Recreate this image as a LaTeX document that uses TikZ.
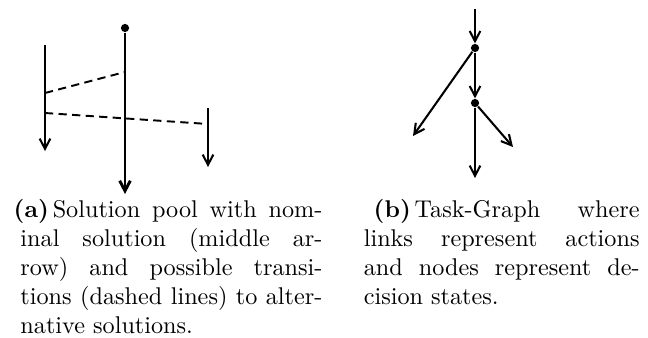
\documentclass[tikz,border=0pt]{standalone}
\usetikzlibrary{arrows.meta}
\begin{document}
\begin{tikzpicture}[x=0.413pt, y=-0.413pt,
  tip/.style={-{Straight Barb[length=4.2pt,width=4.4pt]}},
  thinline/.style={line width=0.85pt},
  thickline/.style={line width=1.2pt},
  dashline/.style={line width=0.8pt, dash pattern=on 3.4pt off 2.2pt},
  dot/.style={circle, fill=black, inner sep=0pt, minimum size=3.4pt},
  caption/.style={inner sep=0pt, anchor=base west, font=\fontsize{10}{12}\selectfont}]
\useasboundingbox (0,0) rectangle (648,337);

% ---- (a) solution pool ----
\node[dot] (start) at (125,28) {};
\coordinate (mend) at (125,194);
\coordinate (ltop) at (45,45);
\coordinate (lend) at (45,151);
\coordinate (rtop) at (208,108);
\coordinate (rend) at (208,167);
\coordinate (l1) at (45,93);
\coordinate (m1) at (125,72);
\coordinate (l2) at (45,113);
\coordinate (r2) at (208,124);

\draw[thickline, tip] (start) -- (mend);
\draw[thinline, tip] (ltop) -- (lend);
\draw[thinline, tip] (rtop) -- (rend);
\draw[dashline] (l1) -- (m1);
\draw[dashline] (l2) -- (r2);

\node[caption] (capa) at (20,217) {\parbox[t]{124.7pt}{%
\hspace*{-2.8pt}\textbf{(a)}\hspace{1.6pt}Solution pool with nom-\linebreak
inal solution (middle ar-\linebreak
row) and possible transi-\linebreak
tions (dashed lines) to alter-\linebreak
native solutions.}};

% ---- (b) task graph ----
\coordinate (in) at (475,9);
\node[dot] (s1) at (475,48) {};
\node[dot] (s2) at (475,103) {};
\coordinate (aleft) at (413,136);
\coordinate (adown) at (475,178);
\coordinate (aright) at (513,147);

\draw[thinline, tip] (in) -- (s1);
\draw[thinline, tip] (s1) -- (s2);
\draw[thinline, tip] (s1) -- (aleft);
\draw[thinline, tip] (s2) -- (adown);
\draw[thinline, tip] (s2) -- (aright);

\node[caption] (capb) at (363.3,217) {\parbox[t]{113.9pt}{%
\hspace*{4.1pt}\textbf{(b)}\hspace{1.6pt}Task-Graph where\linebreak
links represent actions\linebreak
and nodes represent de-\linebreak
cision states.}};
\end{tikzpicture}
\end{document}
